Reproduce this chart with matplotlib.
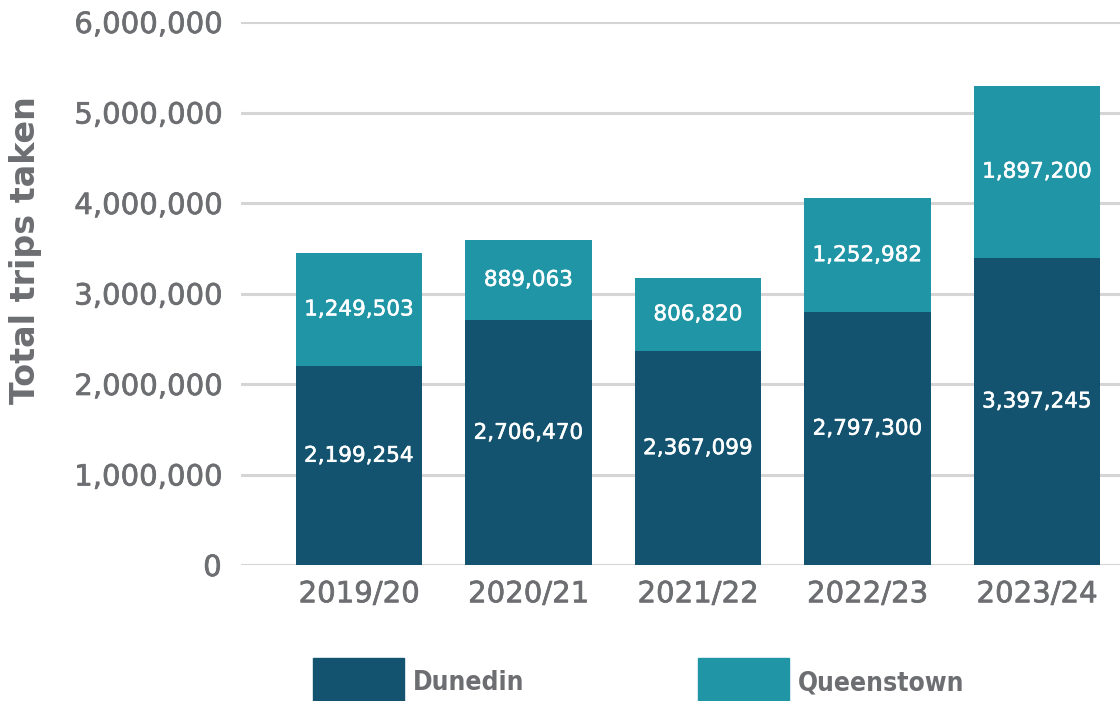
import matplotlib
matplotlib.use("Agg")
import matplotlib.pyplot as plt
import matplotlib.patheffects as pe
from matplotlib.patches import Rectangle
from matplotlib.ticker import FuncFormatter

# trips per financial year
years = ["2019/20", "2020/21", "2021/22", "2022/23", "2023/24"]
dunedin = [2199254, 2706470, 2367099, 2797300, 3397245]
queenstown = [1249503, 889063, 806820, 1252982, 1897200]
series_names = ["Dunedin", "Queenstown"]

dark = "#13536f"
light = "#1f95a6"
grey = "#6d6e71"

plt.rcParams["font.family"] = ["DejaVu Sans"]

# thicken the regular weight a little (the original uses a medium font)
grey_fx = [pe.withStroke(linewidth=0.5, foreground=grey)]
white_fx = [pe.withStroke(linewidth=0.4, foreground="white")]

fig = plt.figure(figsize=(11.2, 7.01), dpi=100)
ax = fig.add_axes([241 / 1120, 136 / 701, 879 / 1120, 543 / 701])

x = list(range(len(years)))
ax.bar(x, dunedin, width=0.745, color=dark, zorder=3)
ax.bar(x, queenstown, width=0.745, bottom=dunedin, color=light, zorder=3)

# value labels inside the bars
for i in x:
    ax.annotate(f"{dunedin[i]:,}", (i, dunedin[i] / 2), xytext=(0, 7),
                textcoords="offset points", ha="center", va="center",
                color="white", fontsize=15.5, zorder=4, path_effects=white_fx)
    ax.annotate(f"{queenstown[i]:,}", (i, dunedin[i] + queenstown[i] / 2),
                ha="center", va="center",
                color="white", fontsize=15.5, zorder=4, path_effects=white_fx)

ax.set_ylim(0, 6000000)
ax.set_xlim(-0.696, 4.49)
ax.set_yticks(range(0, 6000001, 1000000))
ax.yaxis.set_major_formatter(FuncFormatter(lambda v, p: f"{int(v):,}"))
ax.set_xticks(x)
ax.set_xticklabels(years)
ax.grid(axis="y", color="#d5d5d5", linewidth=2.2, zorder=0)
ax.tick_params(length=0, labelsize=21, labelcolor=grey)
ax.tick_params(axis="y", pad=14)
ax.tick_params(axis="x", pad=11)
for s in ax.spines.values():
    s.set_visible(False)
for t in ax.get_xticklabels() + ax.get_yticklabels():
    t.set_path_effects(grey_fx)

ax.set_ylabel("Total trips taken", fontsize=24, fontweight="bold", color=grey)
ax.yaxis.set_label_coords(-0.226, 0.58)

# legend drawn by hand so it sits cut off at the bottom like the original
for px, name, col in [(313, series_names[0], dark), (698, series_names[1], light)]:
    fig.patches.append(Rectangle((px / 1120, -10 / 701), 91 / 1120, 53 / 701,
                                 transform=fig.transFigure, color=col))
    fig.text((px + 100) / 1120, 18 / 701, name, fontsize=19, fontweight="bold",
             fontstretch="condensed", color=grey, va="center", ha="left")

fig.savefig("out.png", dpi=100)
